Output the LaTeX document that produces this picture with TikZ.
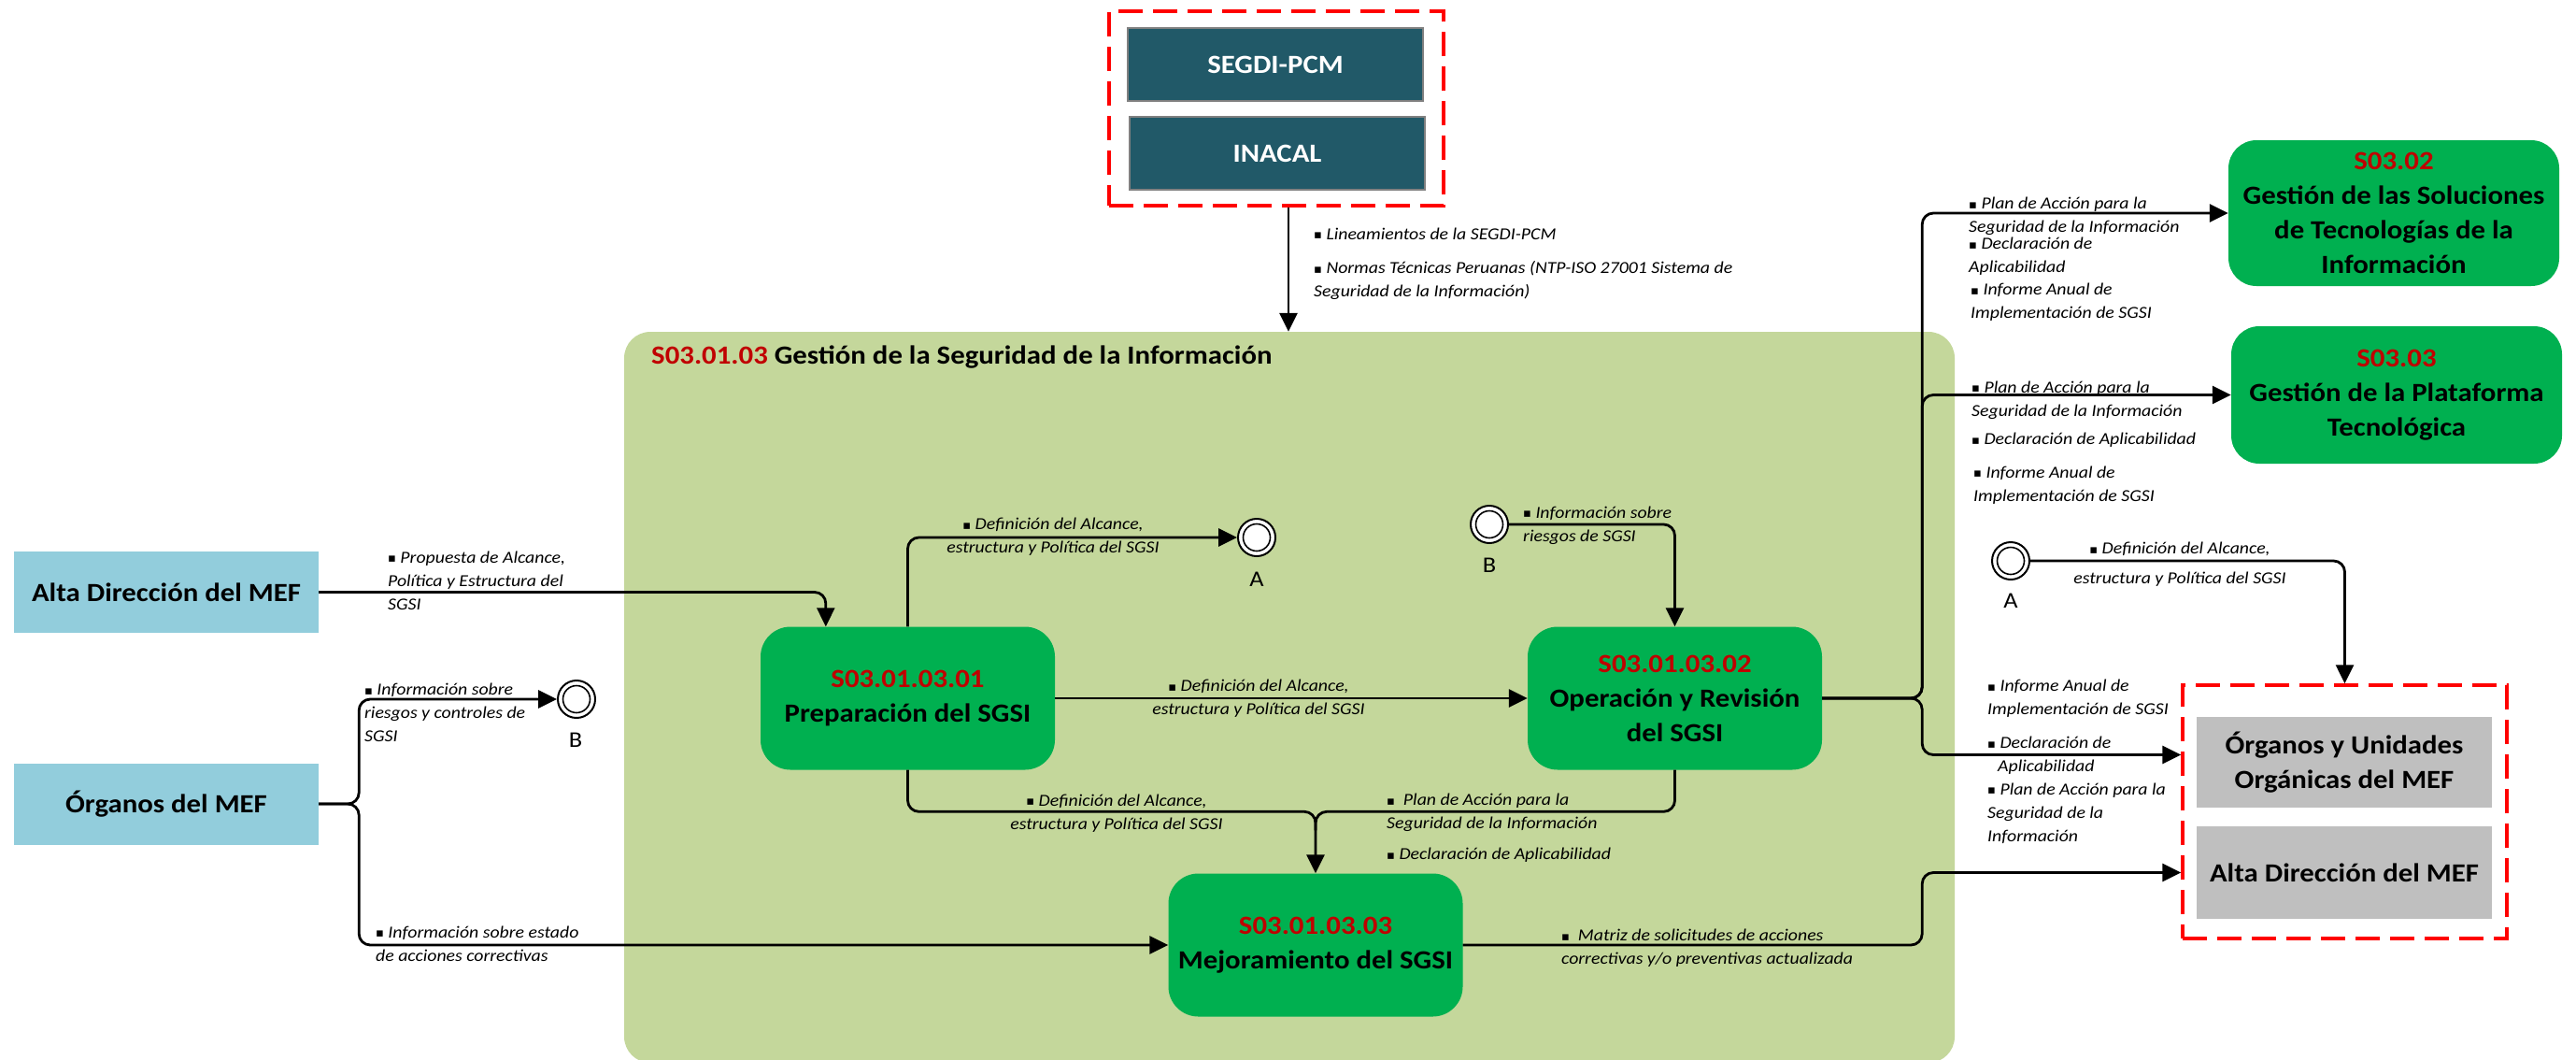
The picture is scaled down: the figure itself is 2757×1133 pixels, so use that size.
\documentclass[tikz,border=0pt]{standalone}
\usepackage{fontspec}
\setmainfont{Carlito}[FakeStretch=1.1]
\newfontfamily\symf{DejaVu Sans}
\usetikzlibrary{arrows.meta,calc}
\definecolor{tealbox}{HTML}{215968}
\definecolor{lblue}{HTML}{92CDDC}
\definecolor{pgreen}{HTML}{00B050}
\definecolor{cgreen}{HTML}{C4D79B}
\definecolor{redt}{HTML}{C00000}
\definecolor{grayb}{HTML}{BFBFBF}
\definecolor{dred}{HTML}{FF0000}
\newcommand\bul{\raisebox{0.5pt}{\symf\fontsize{13}{13}\selectfont ▪}\ }
\tikzset{
 big/.style={font=\fontsize{28}{37}\selectfont\bfseries, align=center, inner sep=0pt},
 extbox/.style={big, fill=lblue, minimum width=326pt, minimum height=87pt},
 topbox/.style={big, fill=tealbox, draw=gray, line width=2pt, text=white, minimum width=316pt, minimum height=78pt},
 graybox/.style={big, fill=grayb, minimum width=316pt, minimum height=97pt},
 proc/.style={big, fill=pgreen, rounded corners=32pt, minimum width=315pt, minimum height=153pt},
 dashbox/.style={draw=dred, line width=3.5pt, dash pattern=on 26pt off 11pt, inner sep=0pt},
 conn/.style={line width=2.8pt, rounded corners=12pt},
 arr/.style={conn, -{Triangle[length=20pt,width=19pt]}},
 lbl/.style={font=\fontsize{18}{25}\selectfont\itshape, inner sep=0pt, align=left, anchor=west},
 lblc/.style={font=\fontsize{18}{25}\selectfont\itshape, inner sep=0pt, align=center},
 evt/.style={circle, draw, line width=2pt, fill=white, minimum size=40pt, inner sep=0pt,
   path picture={\draw[line width=1.6pt] (path picture bounding box.center) circle (14.5pt);}},
 evlbl/.style={font=\fontsize{24}{24}\selectfont, inner sep=0pt},
}
\begin{document}
\begin{tikzpicture}[x=1pt,y=-1pt]
\useasboundingbox (0,0) rectangle (2757,1133);
% container
\node[fill=cgreen, rounded corners=28pt, minimum width=1424pt, minimum height=782pt, inner sep=0pt] (cont) at (1380,746) {};
\node[anchor=west, font=\fontsize{28}{34}\selectfont\bfseries, inner sep=0pt] (title) at (697,382) {\textcolor{redt}{S03.01.03} Gestión de la Seguridad de la Información};
% top group
\node[dashbox, minimum width=358pt, minimum height=208pt] (dashT) at (1366,116) {};
\node[topbox] (segdi) at (1365,69) {SEGDI-PCM};
\node[topbox] (inacal) at (1367,164) {INACAL};
% external left
\node[extbox] (alta) at (178,633.5) {Alta Dirección del MEF};
\node[extbox] (org) at (178,860) {Órganos del MEF};
% processes
\node[proc] (prep) at (971.5,747) {\textcolor{redt}{S03.01.03.01}\\Preparación del SGSI};
\node[proc] (op) at (1792.5,747) {\textcolor{redt}{S03.01.03.02}\\Operación y Revisión\\del SGSI};
\node[proc] (mej) at (1408,1011) {\textcolor{redt}{S03.01.03.03}\\Mejoramiento del SGSI};
% right processes
\node[proc, minimum width=354pt, minimum height=156pt, rounded corners=30pt] (s302) at (2562,228) {\textcolor{redt}{S03.02}\\Gestión de las Soluciones\\de Tecnologías de la\\Información};
\node[proc, minimum width=354pt, minimum height=147pt, rounded corners=30pt] (s303) at (2565,422.5) {\textcolor{redt}{S03.03}\\Gestión de la Plataforma\\Tecnológica};
% right group
\node[dashbox, minimum width=347pt, minimum height=271pt] (dashR) at (2509.5,868.5) {};
\node[graybox] (ou) at (2509,815.5) {Órganos y Unidades\\Orgánicas del MEF};
\node[graybox, minimum height=99pt] (ad2) at (2509,933.5) {Alta Dirección del MEF};
% events
\node[evt] (eA1) at (1345,575) {};
\node[evlbl] (lA1) at (1345,620) {A};
\node[evt] (eB2) at (1594,561) {};
\node[evlbl] (lB2) at (1594,605) {B};
\node[evt] (eB1) at (617,748) {};
\node[evlbl] (lB1) at (616,792) {B};
\node[evt] (eA2) at (2152,600) {};
\node[evlbl] (lA2) at (2152,643) {A};
% connectors
\coordinate (tA) at ($(dashT.south)+(13,0)$);
\draw[arr] (tA) -- (tA |- cont.north);
\draw[arr] (alta.east) -| ($(prep.north west)+(70,0)$);
\draw[arr] (prep.north) |- (eA1.west);
\draw[arr] (prep.east) -- (op.west);
\coordinate (jm) at ($(mej.north)+(0,-66)$);
\draw[conn] (prep.south) |- (jm) -- ($(jm)+(0,20)$);
\draw[arr] (op.south) |- (jm) -- (mej.north);
\coordinate (jo) at ($(org.east)+(43,0)$);
\draw[arr] (org.east) -- (jo) |- (eB1.west);
\draw[arr] (org.east) -- (jo) |- (mej.west);
\draw[arr] (eB2.east) -| (op.north);
\coordinate (jr) at ($(op.east)+(107,0)$);
\coordinate (tOU) at ($(dashR.west |- ou.center)+(0,-8)$);
\draw[arr] (op.east) -- (jr) |- (s302.west);
\draw[arr] (op.east) -- (jr) |- (s303.west);
\draw[arr] (op.east) -- (jr) |- (tOU);
\draw[arr] (eA2.east) -| (dashR.north);
\coordinate (jr2) at (jr |- mej.east);
\draw[arr] (mej.east) -- (jr2) |- (dashR.west |- ad2.center);
% labels
\node[lbl] (t1) at (1406,250) {\bul Lineamientos de la SEGDI-PCM};
\node[lbl] (t2) at (1406,300) {\bul Normas Técnicas Peruanas (NTP-ISO 27001 Sistema de\\Seguridad de la Información)};
\node[lbl] (t3) at (415,621) {\bul Propuesta de Alcance,\\Política y Estructura del\\SGSI};
\node[lbl] (t4) at (390,762.5) {\bul Información sobre\\riesgos y controles de\\SGSI};
\node[lbl] (t5) at (402,1009.5) {\bul Información sobre estado\\de acciones correctivas};
\node[lblc] (t6) at (1127,574.5) {\bul Definición del Alcance,\\estructura y Política del SGSI};
\node[lblc] (t7) at (1347,747.5) {\bul Definición del Alcance,\\estructura y Política del SGSI};
\node[lblc] (t8) at (1195,870) {\bul Definición del Alcance,\\estructura y Política del SGSI};
\node[lbl] (t9) at (1484,869.5) {\bul\ Plan de Acción para la\\Seguridad de la Información};
\node[lbl] (t10) at (1484,915) {\bul Declaración de Aplicabilidad};
\node[lbl] (t11) at (1630,562) {\bul Información sobre\\riesgos de SGSI};
\node[lblc] (t12) at (2333,604) {\bul Definición del Alcance,\\[7pt]estructura y Política del SGSI};
\node[lbl] (t13) at (1671,1014.5) {\bul\ Matriz de solicitudes de acciones\\correctivas y/o preventivas actualizada};
\node[lbl] (t14) at (2107,231.5) {\bul Plan de Acción para la\\Seguridad de la Información};
\node[lbl] (t15) at (2107,274.5) {\bul Declaración de\\Aplicabilidad};
\node[lbl] (t16) at (2109,323.5) {\bul Informe Anual de\\Implementación de SGSI};
\node[lbl] (t17) at (2110,428) {\bul Plan de Acción para la\\Seguridad de la Información};
\node[lbl] (t18) at (2110,471) {\bul Declaración de Aplicabilidad};
\node[lbl] (t19) at (2112,519) {\bul Informe Anual de\\Implementación de SGSI};
\node[lbl] (t20) at (2127,747.5) {\bul Informe Anual de\\Implementación de SGSI};
\node[lbl] (t21) at (2127,808.5) {\bul Declaración de\\\hspace*{11pt}Aplicabilidad};
\node[lbl] (t22) at (2127,870) {\bul Plan de Acción para la\\Seguridad de la\\Información};
\end{tikzpicture}
\end{document}
